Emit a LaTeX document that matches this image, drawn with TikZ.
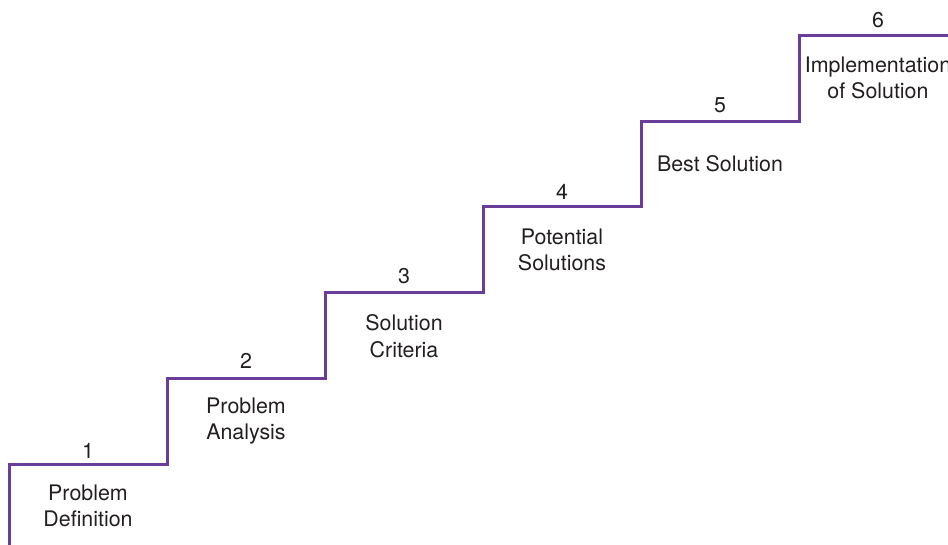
\documentclass[tikz,border=0pt]{standalone}
\usepackage{fontspec}
\setmainfont{TeX Gyre Heros}
\definecolor{stair}{HTML}{6A3D9A}
\definecolor{txt}{HTML}{231F20}
\begin{document}
\begin{tikzpicture}[x=1pt,y=-1pt,
  stairline/.style={draw=stair,line width=3pt,line join=miter},
  numlabel/.style={text=txt,font=\fontsize{21.4}{25}\selectfont,inner sep=0pt,anchor=center},
  steplabel/.style={text=txt,font=\fontsize{21.4}{26.5}\selectfont,align=center,inner sep=0pt,anchor=center}]
\useasboundingbox (0,0) rectangle (948,545);
\clip (0,0) rectangle (948,545);
\coordinate (s0) at (9,560);
\coordinate (a1) at (9,464);   \coordinate (b1) at (167,464);
\coordinate (a2) at (167,378); \coordinate (b2) at (325,378);
\coordinate (a3) at (325,293); \coordinate (b3) at (483,293);
\coordinate (a4) at (483,207); \coordinate (b4) at (641,207);
\coordinate (a5) at (641,122); \coordinate (b5) at (799,122);
\coordinate (a6) at (799,36);  \coordinate (b6) at (960,36);
\draw[stairline] (s0) -- (a1) -- (b1) -- (a2) -- (b2) -- (a3) -- (b3) -- (a4) -- (b4) -- (a5) -- (b5) -- (a6) -- (b6);
\node[numlabel] (n1) at (88,451) {1};
\node[numlabel] (n2) at (246,361) {2};
\node[numlabel] (n3) at (404,276) {3};
\node[numlabel] (n4) at (562,192) {4};
\node[numlabel] (n5) at (720,105) {5};
\node[numlabel] (n6) at (878,20) {6};
\node[steplabel] (l1) at (88,506) {Problem\\Definition};
\node[steplabel] (l2) at (246,421) {Problem\\Analysis};
\node[steplabel] (l3) at (404,336) {Solution\\Criteria};
\node[steplabel] (l4) at (562,250) {Potential\\Solutions};
\node[steplabel] (l5) at (720,164) {Best Solution};
\node[steplabel] (l6) at (878,78) {Implementation\\of Solution};
\end{tikzpicture}
\end{document}
